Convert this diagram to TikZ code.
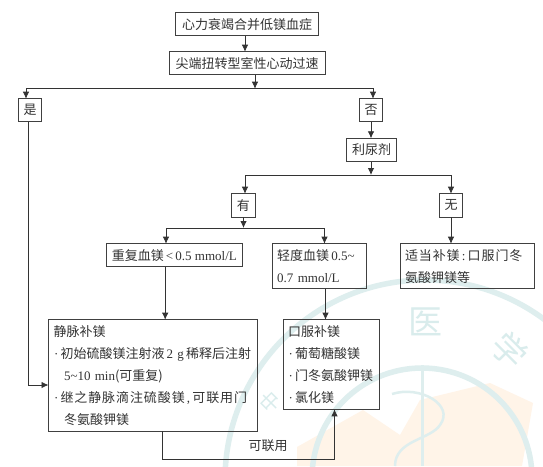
\documentclass[tikz,border=0pt]{standalone}
\usepackage{fontspec}
\setmainfont{Liberation Serif}
\newfontfamily\cjk{Noto Sans CJK SC}
\newfontfamily\cjkw[LetterSpace=7]{Noto Sans CJK SC}
\usetikzlibrary{arrows.meta}
\newcommand{\blt}{\makebox[7pt][l]{\rmfamily\hspace{0.5pt}·}}
\tikzset{
  x=1pt,y=-1pt,
  box/.style={draw=black!75,line width=0.8pt,inner sep=0pt,outer sep=0pt,anchor=north west,font=\cjk\fontsize{13}{22}\selectfont,text=black!80},
  multi/.style={box,align=left,inner xsep=5pt},
  conn/.style={draw=black!80,line width=0.8pt},
  arr/.style={conn,-{Latex[length=7pt,width=6.5pt]}},
  wm/.style={draw=teal!13,line width=5.5pt},
  wmtext/.style={text=teal!15,font=\cjk\fontsize{34}{34}\selectfont},
}
\begin{document}
\begin{tikzpicture}
\useasboundingbox (0,0) rectangle (543,466);
\fill[white] (0,0) rectangle (543,466);
% watermark
\begin{scope}
\clip (0,0) rectangle (543,466);
\fill[orange!9] (297,466) -- (297,447) -- (363,410) -- (400,435) -- (420,400) -- (490,383) -- (533,403) -- (522,466) -- cycle;
\draw[wm] (425,480) circle[radius=200];
\draw[wm] (422,478) circle[radius=110];
\draw[draw=teal!13,line width=3pt] (422,365) -- (422,466);
\draw[draw=teal!13,line width=2.5pt] (392,394) .. controls (420,385) and (455,405) .. (440,425) .. controls (430,440) and (395,440) .. (395,466);
\end{scope}
\node[wmtext] (wma) at (425,322) {医};
\node[wmtext,rotate=-45] (wmb) at (510,350) {学};
\node[wmtext,rotate=45,font=\cjk\fontsize{20}{20}\selectfont] (wmc) at (270,402) {中};
% boxes
\node[box,minimum width=142.6pt,minimum height=23pt] (a) at (175.7,12.7) {心力衰竭合并低镁血症};
\node[box,minimum width=156.3pt,minimum height=23pt] (b) at (169,51.7) {尖端扭转型室性心动过速};
\node[box,minimum width=23pt,minimum height=23pt] (yes) at (18.7,98.7) {是};
\node[box,minimum width=23pt,minimum height=23pt] (no) at (359.7,98.7) {否};
\node[box,minimum width=49.6pt,minimum height=23.4pt] (diu) at (346.7,138.3) {利尿剂};
\node[box,minimum width=23.3pt,minimum height=23.3pt] (you) at (231.7,193.7) {有};
\node[box,minimum width=23pt,minimum height=23.3pt] (wu) at (439.5,193.7) {无};
\node[box,minimum width=136pt,minimum height=23pt] (c) at (106.3,243.7) {重复血镁{\rmfamily\,<\,0.5 mmol/L}};
\node[multi,minimum width=94pt,minimum height=45pt,text width=84pt] (d) at (272.2,243.7) {轻度血镁\,{\rmfamily 0.5\textasciitilde}\\{\rmfamily 0.7 mmol/L}};
\node[multi,minimum width=134pt,minimum height=45pt,text width=124pt] (e) at (400,243.7) {{\cjkw 适当补镁}{\rmfamily\,:\,}{\cjkw 口服门冬}\\氨酸钾镁等};
\node[multi,minimum width=209pt,minimum height=111.3pt,text width=199pt] (f) at (48.5,319.7) {静脉补镁\\\mbox{\blt 初始硫酸镁注射液\,{\rmfamily 2 g}\,稀释后注射}\\\mbox{\hspace{10.5pt}{\rmfamily 5\textasciitilde 10 min}(可重复)}\\\mbox{\blt{\cjkw 继之静脉滴注硫酸镁}{\rmfamily\,,\,}{\cjkw 可联用门}}\\\mbox{\hspace{10.5pt}冬氨酸钾镁}};
\node[multi,minimum width=96pt,minimum height=89.6pt,text width=86pt] (g) at (283.2,319.7) {口服补镁\\\blt 葡萄糖酸镁\\\blt 门冬氨酸钾镁\\\blt 氯化镁};
\node[font=\cjk\fontsize{13}{13}\selectfont,text=black!80] (h) at (268,446) {可联用};
% junctions
\coordinate (j1) at (255,88.7);
\coordinate (j3) at (243.5,228);
\coordinate (jy) at (28,385);
\coordinate (b1) at (162,459);
\coordinate (b2) at (334.5,459);
% connectors
\draw[arr] (a.south -| 245,0) -- (b.north -| 245,0);
\draw[arr] (b.south -| j1) -- (j1);
\draw[arr] (j1) -- (26,88.7) -- (26,98.7);
\draw[arr] (j1) -- (373,88.7) -- (373,98.7);
\draw[arr] (371,121.7) -- (371,138.3);
\draw[arr] (371,161.7) -- (371,175);
\draw[arr] (451,175) -- (451,193.7);
\draw[arr] (245,175) -- (245,193.7);
\draw[conn] (245,175) -- (451,175);
\draw[arr] (you.south -| j3) -- (j3);
\draw[arr] (166,228) -- (166,243.7);
\draw[arr] (324.5,228) -- (324.5,243.7);
\draw[conn] (166,228) -- (324.5,228);
\draw[arr] (451,217) -- (451,243.7);
\draw[arr] (165.2,266.7) -- (165.2,319.7);
\draw[arr] (325.5,288.7) -- (325.5,319.7);
\draw[conn] (28,121.7) -- (jy);
\draw[arr] (jy) -- (f.west |- jy);
\draw[conn] (162,431) -- (b1);
\draw[arr] (b1) -- (b2) -- (334.5,409.3);
\end{tikzpicture}
\end{document}
